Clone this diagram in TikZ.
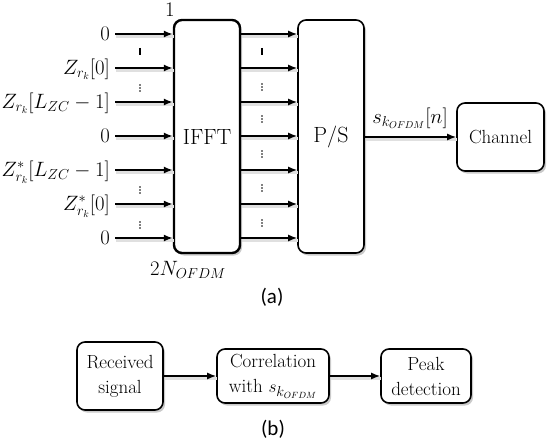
\documentclass[tikz,border=0pt]{standalone}
\usepackage{fontspec}
\newfontfamily\capfont{Carlito}
\usetikzlibrary{arrows.meta,shadows}
\begin{document}
\begin{tikzpicture}[x=1pt,y=-1pt,
  blk/.style={draw, line width=1.6pt, rounded corners=8pt, fill=white,
    drop shadow={shadow xshift=2pt,shadow yshift=-2.5pt,opacity=0.35,fill=black!60},
    inner sep=0pt, align=center, font=\fontsize{19}{25}\selectfont},
  arr/.style={line width=1.5pt, -{Latex[length=9pt,width=7pt]},
    preaction={draw=black!12, line width=3pt, -, transform canvas={shift={(1pt,-2.5pt)}}}},
  lbl/.style={font=\fontsize{20}{24}\selectfont, inner sep=0pt},
  captxt/.style={font=\capfont\fontsize{21}{24}\selectfont, inner sep=0pt},
  vdt/.pic={\foreach \d in {-3,0,3}{\fill (0,\d) circle (0.85pt);}},
]
\useasboundingbox (0,0) rectangle (554,444);

% (a)
\node[blk, line width=2.4pt, minimum width=66pt, minimum height=233pt,
      font=\fontsize{22}{24}\selectfont] (ifft) at (207,136.5) {IFFT};
\node[blk, minimum width=66pt, minimum height=233pt,
      font=\fontsize{22}{24}\selectfont] (ps) at (331,136.5) {P/S};
\node[blk, minimum width=87pt, minimum height=68pt] (ch) at (500.5,137) {Channel};

\foreach \i/\y in {1/34,2/68,3/102,4/136,5/170,6/204,7/238}{
  \coordinate (s\i) at (115,\y);
  \draw[arr] (s\i) -- (ifft.west |- s\i);
  \draw[arr] (ifft.east |- s\i) -- (ps.west |- s\i);
}
\node[lbl, anchor=base east] (l1) at (110,40.5) {$0$};
\node[lbl, anchor=base east] (l2) at (110,74.5) {$Z_{r_k}[0]$};
\node[lbl, anchor=base east] (l3) at (110,108.5) {$Z_{r_k}[L_{ZC}-1]$};
\node[lbl, anchor=base east] (l4) at (110,142.5) {$0$};
\node[lbl, anchor=base east] (l5) at (110,176.5) {$Z^*_{r_k}[L_{ZC}-1]$};
\node[lbl, anchor=base east] (l6) at (110,210.5) {$Z^*_{r_k}[0]$};
\node[lbl, anchor=base east] (l7) at (110,244.5) {$0$};

% dots
\draw[line width=1.8pt] (140,48) -- (140,55);
\draw[line width=1.8pt] (262,48) -- (262,55);
\foreach \y in {88,190,225}{\pic at (140,\y) {vdt};}
\foreach \y in {87,119,154,188,223}{\pic at (262,\y) {vdt};}

\node[lbl, anchor=base] (one) at (170,17) {$1$};
\node[lbl, anchor=base east] (nn) at (226,275) {$2N_{OFDM}$};

\draw[arr] (ps.east |- ch.west) -- (ch.west);
\node[lbl, anchor=base] (slab) at (410,123) {$s_{k_{OFDM}}[n]$};

\node[captxt] (capa) at (272,297) {(a)};

% (b)
\node[blk, minimum width=86pt, minimum height=68pt] (rx) at (120,376) {Received\\signal};
\node[blk, minimum width=112pt, minimum height=54pt] (cor) at (273,376) {Correlation\\with $s_{k_{OFDM}}$};
\node[blk, minimum width=90pt, minimum height=54pt] (pk) at (426,376) {Peak\\detection};
\draw[arr] (rx) -- (cor);
\draw[arr] (cor) -- (pk);
\node[captxt] (capb) at (273,429) {(b)};
\end{tikzpicture}
\end{document}
